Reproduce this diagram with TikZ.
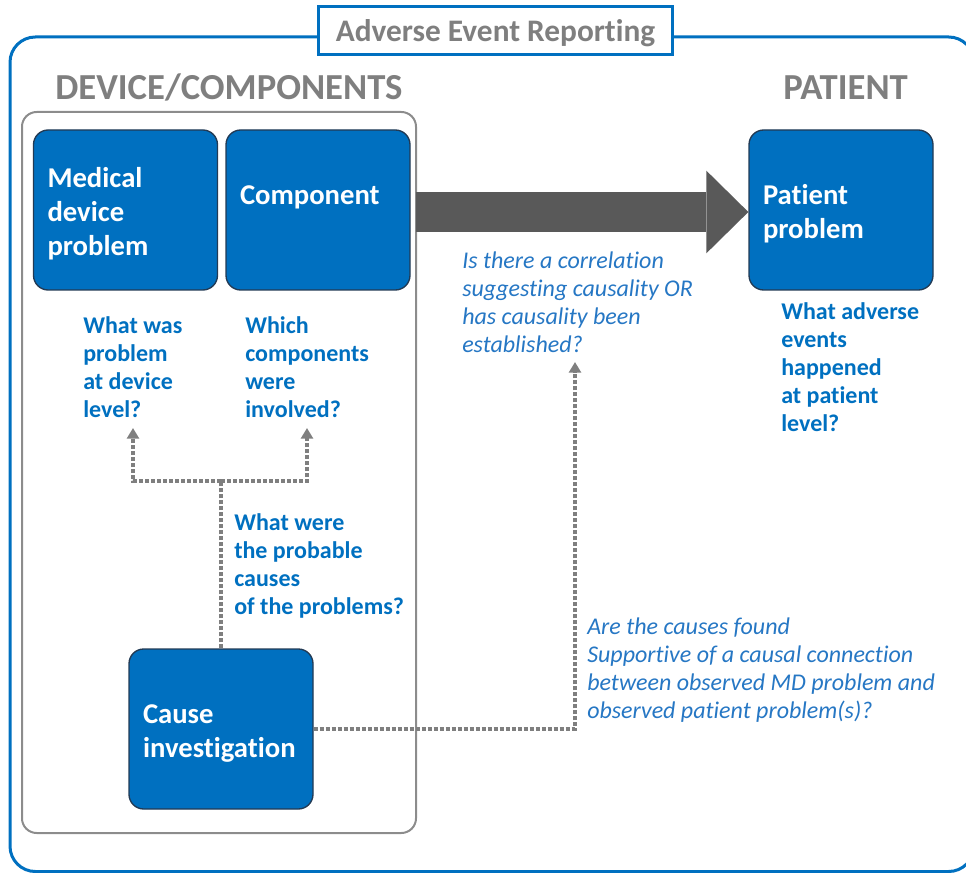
\documentclass[tikz,border=0pt]{standalone}
\usepackage{fontspec}
\setmainfont{Carlito}[Ligatures={NoCommon,NoRequired}]
\usetikzlibrary{arrows.meta}
\definecolor{boxblue}{HTML}{0070C0}
\definecolor{boxedge}{HTML}{223A54}
\definecolor{qblue}{HTML}{0070C0}
\definecolor{iblue}{HTML}{2677C4}
\definecolor{hgray}{HTML}{7F7F7F}
\definecolor{fgray}{HTML}{8C8C8C}
\definecolor{agray}{HTML}{595959}
\definecolor{dgray}{HTML}{7F7F7F}
\begin{document}
\begin{tikzpicture}[x=0.75pt,y=-0.75pt,
  bluebox/.style={draw=boxedge, line width=1pt, fill=boxblue, rounded corners=11pt,
    minimum width=138pt, minimum height=120pt, text width=117pt, inner xsep=10.5pt,
    align=left, text=white, font=\fontsize{21.5}{25.5}\selectfont\bfseries,
    execute at begin node={\rule{0pt}{21pt}}},
  boldq/.style={anchor=west, inner sep=0pt, align=left, text=qblue,
    font=\fontsize{18}{21}\selectfont\bfseries},
  itq/.style={anchor=west, inner sep=0pt, align=left, text=iblue,
    font=\fontsize{18}{21}\selectfont\itshape},
  hdr/.style={anchor=base west, inner sep=0pt, text=hgray,
    font=\fontsize{27.5}{30}\selectfont\bfseries},
  dotline/.style={dgray, line width=3.4pt, dash pattern=on 3pt off 1.5pt},
  tip/.style={-{Triangle[width=9pt,length=8pt]}}
]
\useasboundingbox (0,0) rectangle (966,873);
% outer frame
\begin{scope}
\clip (0,0) rectangle (966,873);
\draw[boxblue, line width=2.25pt, rounded corners=19pt] (10,37) rectangle (974,871.5);
\end{scope}
\node[draw=boxblue, line width=2.25pt, fill=white, minimum width=266pt, minimum height=36pt,
  inner sep=0pt, text depth=0pt, text=hgray, font=\fontsize{23.5}{26}\selectfont\bfseries] (title) at (495.5,31) {Adverse Event Reporting};
% headers
\node[hdr] (hdev) at (55,100) {DEVICE/COMPONENTS};
\node[hdr] (hpat) at (783,100) {PATIENT};
% device frame
\node[draw=fgray, line width=1.5pt, rounded corners=11pt, minimum width=295.5pt,
  minimum height=540.75pt, inner sep=0pt] (devframe) at (219,472.5) {};
% boxes
\node[bluebox] (med) at (125.5,210) {Medical\\device\\problem};
\node[bluebox] (comp) at (318,210) {Component\\\rule[-4pt]{0pt}{0pt}};
\node[bluebox] (pat) at (841,210) {Patient\\problem};
\node[bluebox] (cause) at (221,729) {Cause\\investigation};
% big arrow
\draw[agray, line width=30pt, -{Triangle[width=62pt,length=31.5pt,line width=0pt]}]
  ([xshift=3.75pt,yshift=-1.5pt]comp.east) -- ([yshift=-1.5pt]pat.west);
% questions
\node[boldq] (q1) at (83,367) {What was\\problem\\at device\\level?};
\node[boldq] (q2) at (245,367) {Which\\components\\were\\involved?};
\node[boldq] (q3) at (234,566) {What were\\the probable\\causes\\of the problems?};
\node[boldq] (q4) at (781,367) {What adverse\\events\\happened\\at patient\\level?};
\node[itq] (q5) at (462,302) {Is there a correlation\\suggesting causality OR\\has causality been\\established?};
\node[itq] (q6) at (587,670) {Are the causes found\\Supportive of a causal connection\\between observed MD problem and\\observed patient problem(s)?};
% dotted connectors
\coordinate (j) at (cause.north |- 0,481);
\coordinate (t1) at (133,428);
\coordinate (t2) at (307,428);
\coordinate (t5) at (575,362);
\draw[dotline] (cause.north) -- (j);
\draw[dotline, tip] (j) -| (t1);
\draw[dotline, tip] (j) -| (t2);
\draw[dotline, tip] (cause.east) -| (t5);
\end{tikzpicture}
\end{document}
